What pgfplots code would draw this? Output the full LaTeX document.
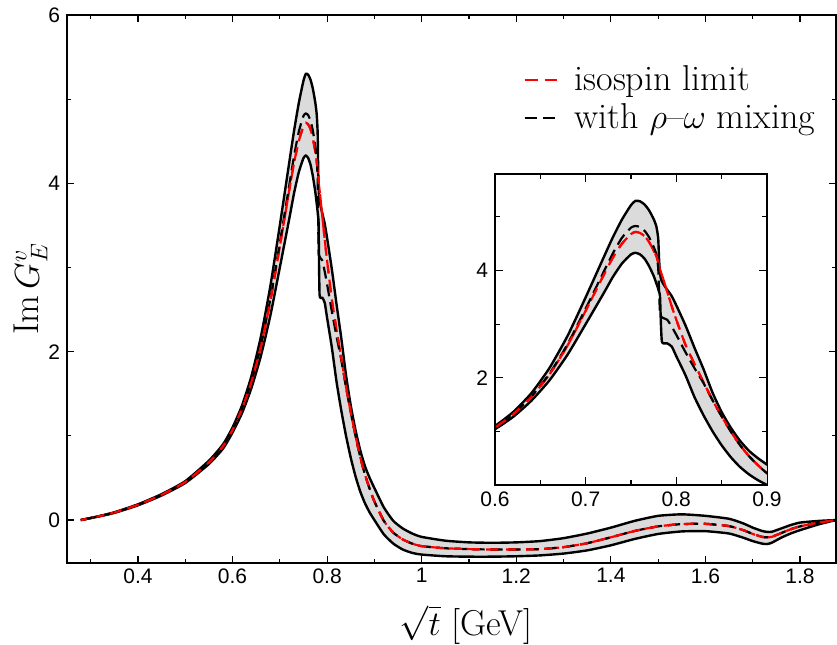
\documentclass[border=0pt]{standalone}
\usepackage{fontspec}
\usepackage{pgfplots}
\pgfplotsset{compat=1.18}
\usepgfplotslibrary{fillbetween}
\usepackage{pgfplotstable}
\newfontfamily\ticksf{Liberation Sans}
\definecolor{bandgray}{gray}{0.86}

\pgfplotstableread{
x      up     lo     iso    mix
0.2791 0.000  0.000  0.000  0.000
0.30   0.025  0.023  0.024  0.024
0.32   0.050  0.046  0.048  0.048
0.35   0.092  0.085  0.089  0.089
0.40   0.187  0.175  0.181  0.181
0.45   0.308  0.292  0.300  0.300
0.50   0.462  0.440  0.452  0.452
0.55   0.705  0.665  0.685  0.686
0.58   0.900  0.850  0.878  0.880
0.60   1.100  1.040  1.070  1.072
0.62   1.360  1.270  1.320  1.325
0.64   1.710  1.570  1.640  1.650
0.66   2.180  1.950  2.060  2.075
0.68   2.780  2.430  2.600  2.625
0.70   3.500  3.000  3.250  3.290
0.72   4.250  3.580  3.920  3.980
0.73   4.620  3.880  4.240  4.320
0.74   4.950  4.130  4.500  4.610
0.75   5.220  4.300  4.680  4.800
0.755  5.300  4.330  4.720  4.830
0.76   5.290  4.300  4.700  4.810
0.765  5.230  4.220  4.640  4.740
0.77   5.120  4.080  4.530  4.620
0.775  4.960  3.900  4.370  4.440
0.778  4.820  3.760  4.260  4.300
0.780  4.600  3.660  4.150  4.050
0.781  4.200  3.600  4.100  3.600
0.782  3.950  3.520  4.020  3.200
0.783  3.850  3.000  3.970  3.150
0.784  3.800  2.680  3.920  3.130
0.786  3.740  2.640  3.820  3.110
0.79   3.640  2.640  3.600  3.080
0.795  3.520  2.580  3.330  2.950
0.80   3.350  2.400  3.080  2.800
0.81   2.980  2.050  2.620  2.480
0.82   2.560  1.640  2.260  2.180
0.83   2.160  1.300  1.920  1.900
0.84   1.720  1.000  1.580  1.580
0.85   1.360  0.740  1.280  1.280
0.86   1.070  0.520  1.000  1.000
0.87   0.830  0.340  0.750  0.750
0.88   0.640  0.200  0.540  0.540
0.89   0.500  0.090  0.370  0.370
0.90   0.380  0.000  0.220  0.220
0.92   0.150 -0.170 -0.010 -0.010
0.94  -0.010 -0.280 -0.150 -0.150
0.96  -0.100 -0.350 -0.230 -0.230
0.98  -0.160 -0.390 -0.280 -0.280
1.00  -0.200 -0.410 -0.310 -0.310
1.05  -0.245 -0.430 -0.335 -0.335
1.10  -0.265 -0.435 -0.345 -0.345
1.15  -0.270 -0.435 -0.350 -0.350
1.20  -0.265 -0.430 -0.350 -0.350
1.25  -0.250 -0.420 -0.345 -0.345
1.30  -0.215 -0.398 -0.322 -0.322
1.35  -0.160 -0.360 -0.275 -0.275
1.40  -0.090 -0.300 -0.205 -0.205
1.45  -0.010 -0.225 -0.130 -0.130
1.50   0.050 -0.165 -0.075 -0.075
1.55   0.068 -0.135 -0.048 -0.048
1.60   0.050 -0.132 -0.045 -0.045
1.65   0.015 -0.160 -0.072 -0.072
1.68  -0.040 -0.210 -0.120 -0.120
1.70  -0.090 -0.250 -0.165 -0.165
1.72  -0.130 -0.280 -0.200 -0.200
1.73  -0.140 -0.285 -0.205 -0.205
1.74  -0.140 -0.270 -0.200 -0.200
1.76  -0.100 -0.210 -0.155 -0.155
1.78  -0.060 -0.160 -0.110 -0.110
1.80  -0.030 -0.120 -0.075 -0.075
1.84  -0.010 -0.050 -0.030 -0.030
1.876  0.000  0.000  0.000  0.000
}\datatab

\pgfplotsset{
  common/.style={
    scale only axis,
    tick align=inside,
    axis line style={line width=0.8pt},
    every tick/.style={line width=0.6pt, black},
    /pgf/number format/assume math mode=true,
    ticklabel style={font=\ticksf\fontsize{10.5}{12}\selectfont},
  },
  sm/.style={smooth, tension=0.35},
  bandfill/.style={fill=bandgray, draw=none},
  bandline/.style={black, line width=1.2pt, sm},
  redline/.style={red, line width=1.1pt, dash pattern=on 6.5pt off 3.5pt, sm},
  isoline/.style={red, line width=1.1pt, dash pattern=on 4pt off 5pt, dash phase=1pt, sm},
  mixline/.style={black, line width=1.1pt, dash pattern=on 6pt off 3pt, sm},
}

\begin{document}
\begin{tikzpicture}
\begin{axis}[common,
  at={(0pt,0pt)}, anchor=south west,
  width=384.5pt, height=274pt,
  xmin=0.25, xmax=1.876, ymin=-0.51, ymax=6,
  xtick={0.4,0.6,0.8,1,1.2,1.4,1.6,1.8},
  xticklabels={0.4,0.6,0.8,1,1.2,1.4,1.6,1.8},
  minor xtick={0.3,0.5,0.7,0.9,1.1,1.3,1.5,1.7},
  ytick={0,2,4,6},
  minor ytick={1,3,5},
  major tick length=3.5pt, minor tick length=2pt,
  xticklabel style={inner sep=1.5pt, yshift=-1pt},
  xlabel={$\sqrt{t}$ [GeV]},
  ylabel={$\mathrm{Im}\,G_E^v$},
  label style={font=\fontsize{18}{21}\selectfont, inner sep=0pt},
  xlabel style={at={(axis description cs:0.519,-0.113)}, anchor=center},
  ylabel style={at={(axis description cs:-0.047,0.5)}, anchor=center},
  legend style={at={(axis description cs:0.593,0.908)}, anchor=north west,
    draw=none, fill=none, font=\fontsize{18}{21}\selectfont,
    row sep=5pt, column sep=8.5pt, inner sep=0pt, nodes={inner sep=0pt}},
  legend cell align=left,
  legend image code/.code={\draw[#1] (0pt,0pt) -- (16pt,0pt);},
]
\addplot[draw=none, name path=up, forget plot, sm] table[x=x, y=up] {\datatab};
\addplot[draw=none, name path=lo, forget plot, sm] table[x=x, y=lo] {\datatab};
\addplot[bandfill, forget plot] fill between[of=up and lo];
\addplot[bandline, forget plot] table[x=x, y=up] {\datatab};
\addplot[bandline, forget plot] table[x=x, y=lo] {\datatab};
\addplot[redline, forget plot] table[x=x, y=iso] {\datatab};
\addlegendimage{red, line width=1.1pt, dash pattern=on 6.5pt off 3.5pt}
\addlegendentry{isospin limit}
\addplot[mixline] table[x=x, y=mix] {\datatab};
\addlegendentry{with $\rho$--$\omega$ mixing}
\addplot[isoline, forget plot] table[x=x, y=iso] {\datatab};
\end{axis}
\begin{axis}[common,
  at={(214pt,39pt)}, anchor=south west,
  width=136pt, height=155.5pt,
  xmin=0.6, xmax=0.9, ymin=0, ymax=5.8,
  xtick={0.6,0.7,0.8,0.9},
  xticklabels={0.6,0.7,0.8,0.9},
  minor xtick={0.65,0.75,0.85},
  ytick={2,4},
  minor ytick={1,3,5},
  major tick length=4pt, minor tick length=2.5pt,
  axis background/.style={fill=white},
]
\addplot[draw=none, name path=up2, sm] table[x=x, y=up] {\datatab};
\addplot[draw=none, name path=lo2, sm] table[x=x, y=lo] {\datatab};
\addplot[bandfill] fill between[of=up2 and lo2];
\addplot[bandline] table[x=x, y=up] {\datatab};
\addplot[bandline] table[x=x, y=lo] {\datatab};
\addplot[redline] table[x=x, y=iso] {\datatab};
\addplot[mixline] table[x=x, y=mix] {\datatab};
\addplot[isoline] table[x=x, y=iso] {\datatab};
\end{axis}
\path (-33.5pt,-39pt) rectangle (385pt,281.5pt);
\end{tikzpicture}
\end{document}
